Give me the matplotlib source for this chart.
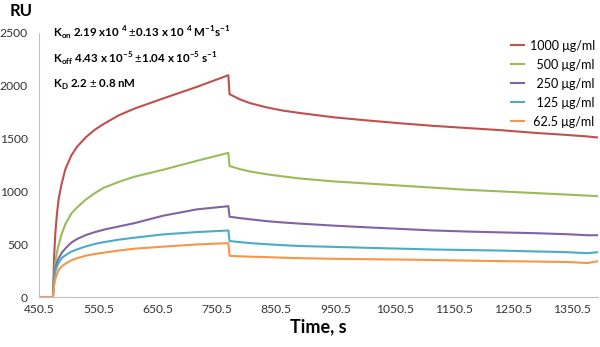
import matplotlib
matplotlib.use("Agg")
import matplotlib.pyplot as plt

# time points (s)
time_s = [450.5, 474, 476, 478, 481, 484, 489, 495, 505, 515, 530, 545, 560,
          585, 612, 660, 717, 770, 772, 790, 807, 835, 862, 891, 947, 1004,
          1060, 1117, 1173, 1229, 1285, 1340, 1376, 1394]

ru_1000 = [0, 0, 380, 600, 800, 940, 1080, 1210, 1340, 1425, 1515, 1585, 1640,
           1720, 1785, 1880, 1990, 2100, 1920, 1870, 1835, 1795, 1765, 1742,
           1702, 1672, 1645, 1620, 1600, 1580, 1555, 1535, 1520, 1510]
ru_500 = [0, 0, 200, 330, 430, 500, 600, 690, 790, 850, 925, 985, 1035,
          1090, 1140, 1205, 1290, 1365, 1240, 1210, 1188, 1162, 1142, 1122,
          1095, 1075, 1055, 1035, 1015, 1000, 985, 970, 960, 955]
ru_250 = [0, 0, 180, 270, 330, 370, 420, 460, 515, 550, 588, 615, 638,
          668, 700, 770, 830, 860, 760, 747, 736, 718, 706, 695,
          676, 660, 645, 630, 620, 612, 605, 595, 585, 585]
ru_125 = [0, 0, 160, 240, 290, 330, 370, 395, 430, 452, 480, 503, 520,
          543, 562, 593, 615, 630, 530, 520, 510, 500, 491, 483,
          475, 466, 458, 450, 445, 440, 432, 425, 415, 425]
ru_62 = [0, 0, 110, 170, 220, 260, 290, 315, 348, 368, 392, 408, 420,
         440, 458, 477, 498, 510, 390, 385, 382, 378, 372, 368,
         362, 358, 355, 350, 345, 340, 336, 332, 322, 340]

series = [ru_1000, ru_500, ru_250, ru_125, ru_62]
labels = ["1000 \u03bcg/ml", "  500 \u03bcg/ml", "  250 \u03bcg/ml",
          "  125 \u03bcg/ml", " 62.5 \u03bcg/ml"]
colors = ["#C0504D", "#9BBB59", "#8064A2", "#4BACC6", "#F79646"]

x_ticks = [450.5, 550.5, 650.5, 750.5, 850.5, 950.5, 1050.5, 1150.5, 1250.5, 1350.5]
y_ticks = [0, 500, 1000, 1500, 2000, 2500]

plt.rcParams["font.family"] = ["Lato", "DejaVu Sans"]
plt.rcParams["mathtext.fontset"] = "custom"
plt.rcParams["mathtext.rm"] = "Lato"
plt.rcParams["mathtext.bf"] = "Lato:bold"

fig = plt.figure(figsize=(6, 3.47), dpi=100)
ax = fig.add_axes([0.065, 0.144, 0.932, 0.761])

for vals, lab, col in zip(series, labels, colors):
    ax.plot(time_s, vals, color=col, lw=1.5, label=lab)

ax.set_xlim(450.5, 1394)
ax.set_ylim(0, 2500)
ax.set_xticks(x_ticks)
ax.set_xticklabels([str(t) for t in x_ticks])
ax.set_yticks(y_ticks)
ax.tick_params(length=0, labelsize=8.7, labelcolor="#333333")
ax.tick_params(axis="x", pad=5)
ax.tick_params(axis="y", pad=8)
for s in ["top", "right"]:
    ax.spines[s].set_visible(False)
for s in ["left", "bottom"]:
    ax.spines[s].set_color("#BFBFBF")

fig.text(0.035, 0.968, "RU", fontsize=12, fontweight="bold", ha="center", va="center")
fig.text(0.53, 0.057, "Time, s", fontsize=13, fontweight="bold", ha="center", va="center")

ann = dict(fontsize=8.3, fontweight="bold", ha="left", va="center")
fig.text(0.088, 0.905,
         r"K$_{\mathbf{on}}$ 2.19 x10 $^{\mathbf{4}}$ $\pm$0.13 x 10 $^{\mathbf{4}}$ M$^{\mathbf{-1}}$s$^{\mathbf{-1}}$",
         **ann)
fig.text(0.088, 0.83,
         r"K$_{\mathbf{off}}$ 4.43 x 10$^{\mathbf{-5}}$ $\pm$1.04 x 10$^{\mathbf{-5}}$ s$^{\mathbf{-1}}$",
         **ann)
fig.text(0.088, 0.755, r"K$_{\mathbf{D}}$ 2.2 $\pm$ 0.8 nM", **ann)

ax.legend(loc="upper right", bbox_to_anchor=(1.0, 0.9), bbox_transform=fig.transFigure,
          frameon=False, fontsize=9, handlelength=1.0, handletextpad=0.5,
          labelspacing=0.56, borderaxespad=0)

fig.savefig("out.png", dpi=100)
